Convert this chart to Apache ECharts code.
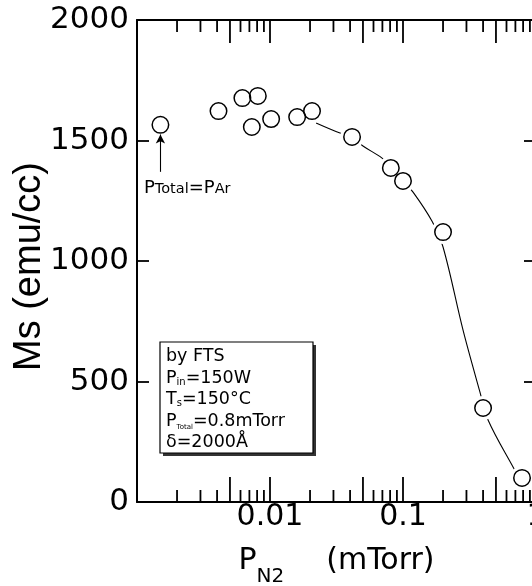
<!DOCTYPE html>
<html><head><meta charset="utf-8">
<script src="https://cdn.jsdelivr.net/npm/echarts@6/dist/echarts.min.js"></script>
<style>html,body{margin:0;padding:0;background:#fff}#c{width:532px;height:586px}</style>
</head><body><div id="c"></div>
<script>
// Measured points: N2 partial pressure (mTorr) and saturation magnetization (emu/cc)
const pN2 = [0.0015, 0.0041, 0.0062, 0.0081, 0.0073, 0.0102, 0.016, 0.0207, 0.0414, 0.081, 0.1, 0.2, 0.4, 0.785];
const ms  = [1565, 1622, 1676, 1685, 1556, 1589, 1597, 1622, 1515, 1386, 1332, 1120, 390, 100];
// Guide curve
const curveX = [0.0222, 0.0336, 0.0413, 0.0500, 0.0696, 0.0812, 0.1, 0.119, 0.165, 0.200, 0.2825, 0.379, 0.436, 0.672, 0.745];
const curveY = [1573, 1531, 1515, 1477, 1427, 1386, 1332, 1286, 1166, 1058, 714, 456, 340, 145, 104];
// Axis ticks / labels
const xTickValues = [0.01, 0.1, 1];
const xTickLabels = ['0.01', '0.1', '1'];
const xLongTicks = [0.005, 0.01, 0.05, 0.1, 0.5];
const xShortTicks = [0.002, 0.003, 0.004, 0.006, 0.007, 0.008, 0.009,
                     0.02, 0.03, 0.04, 0.06, 0.07, 0.08, 0.09,
                     0.2, 0.3, 0.4, 0.6, 0.7, 0.8, 0.9];
const yTickLabels = ['0', '500', '1000', '1500', '2000'];
// Annotation arrow (data units)
const arrowFrom = [0.0015, 1370];
const arrowTo = [0.0015, 1525];

const FONT = 'DejaVu Sans';
const scatterData = pN2.map((x, i) => [x, ms[i]]);
const curveData = curveX.map((x, i) => [x, curveY[i]]);

function labelFor(v) {
  const idx = xTickValues.findIndex(t => Math.abs(Math.log10(t) - Math.log10(v)) < 1e-6);
  return idx >= 0 ? xTickLabels[idx] : '';
}
function tickSeries(values, lenBottom, lenTop) {
  return {
    type: 'custom', coordinateSystem: 'cartesian2d', xAxisIndex: 0, yAxisIndex: 0,
    z: 10, silent: true, clip: false,
    data: values.map(v => [v, 0]),
    renderItem(params, api) {
      const cs = params.coordSys;
      const x = api.coord([api.value(0), 0])[0];
      const bottom = cs.y + cs.height, top = cs.y;
      const st = { stroke: '#000', lineWidth: 1.8 };
      return { type: 'group', children: [
        { type: 'line', shape: { x1: x, y1: bottom, x2: x, y2: bottom - lenBottom }, style: st },
        { type: 'line', shape: { x1: x, y1: top, x2: x, y2: top + lenTop }, style: st }
      ]};
    }
  };
}

const chart = echarts.init(document.getElementById('c'), null, { renderer: 'canvas' });
const mStyle = { fill: '#000', fontFamily: FONT, fontSize: 17.5, lineHeight: 18, verticalAlign: 'bottom' };
const boxRich = {
  m: mStyle,
  s: { fill: '#000', fontFamily: FONT, fontSize: 10, lineHeight: 10, verticalAlign: 'bottom' },
  t: { fill: '#000', fontFamily: FONT, fontSize: 7, lineHeight: 7, verticalAlign: 'bottom' }
};
function boxLine(text, y) {
  return { type: 'text', z: 30, style: { x: 166, y: y, text: text, rich: boxRich, verticalAlign: 'top', align: 'left' } };
}

chart.setOption({
  animation: false,
  backgroundColor: '#fff',
  grid: { left: 137, top: 20, width: 399, height: 482, outerBoundsMode: 'none', containLabel: false },
  xAxis: [{
    type: 'log', logBase: 10, min: 0.001, max: 1, position: 'bottom',
    axisLine: { show: true, onZero: false, lineStyle: { color: '#000', width: 2 } },
    axisTick: { show: false }, minorTick: { show: false }, splitLine: { show: false },
    axisLabel: { margin: 0, color: '#000', fontFamily: FONT, fontSize: 30, formatter: labelFor },
    name: '{p|P}{sub|N2}{g| }{u|(mTorr)}',
    nameLocation: 'middle', nameGap: 44, nameMoveOverlap: false,
    nameTextStyle: {
      rich: {
        p: { color: '#000', fontFamily: FONT, fontSize: 30, lineHeight: 30, verticalAlign: 'top' },
        sub: { color: '#000', fontFamily: FONT, fontSize: 20, lineHeight: 20, verticalAlign: 'top', padding: [21, 0, 0, 0] },
        g: { fontSize: 10, lineHeight: 10, width: 42, verticalAlign: 'top' },
        u: { color: '#000', fontFamily: FONT, fontSize: 30, lineHeight: 30, verticalAlign: 'top' }
      }
    }
  }, {
    type: 'log', logBase: 10, min: 0.001, max: 1, position: 'top',
    axisLine: { show: true, onZero: false, lineStyle: { color: '#000', width: 2 } },
    axisTick: { show: false }, axisLabel: { show: false }, splitLine: { show: false }
  }],
  yAxis: [{
    type: 'value', min: 0, max: 2000, interval: 500, position: 'left',
    axisLine: { show: true, onZero: false, lineStyle: { color: '#000', width: 2 } },
    axisTick: { show: true, inside: true, length: 12, lineStyle: { color: '#000', width: 1.8 } },
    axisLabel: { margin: 8, color: '#000', fontFamily: FONT, fontSize: 31,
                 formatter: (v) => yTickLabels[Math.round(v / 500)] },
    splitLine: { show: false },
    name: 'Ms (emu/cc)', nameLocation: 'middle', nameGap: 88, nameRotate: 90, nameMoveOverlap: false,
    nameTextStyle: { fontFamily: 'Liberation Sans', fontSize: 38, color: '#000', padding: [0, 11, 0, 0] }
  }, {
    type: 'value', min: 0, max: 2000, interval: 500, position: 'right',
    axisLine: { show: true, onZero: false, lineStyle: { color: '#000', width: 2 } },
    axisTick: { show: true, inside: true, length: 12, lineStyle: { color: '#000', width: 1.8 } },
    axisLabel: { show: false }, splitLine: { show: false }
  }],
  series: [
    {
      type: 'line', data: curveData, smooth: 0.35, symbol: 'none', showSymbol: false,
      lineStyle: { color: '#000', width: 1.1 }, z: 2, silent: true
    },
    {
      type: 'scatter', data: scatterData, symbol: 'circle', symbolSize: 24,
      itemStyle: { color: '#fff', opacity: 1 }, z: 3, silent: true
    },
    {
      type: 'scatter', data: scatterData, symbol: 'circle', symbolSize: 16.5,
      itemStyle: { color: 'rgba(0,0,0,0)', borderColor: '#000', borderWidth: 1.5, opacity: 1 }, z: 4, silent: true,
      markLine: {
        silent: true, symbol: ['none', 'arrow'], symbolSize: [7, 9], animation: false,
        label: { show: false }, lineStyle: { color: '#000', width: 1.1, type: 'solid' },
        data: [[{ coord: arrowFrom }, { coord: arrowTo }]]
      }
    },
    tickSeries(xShortTicks, 12, 12),
    tickSeries(xLongTicks, 25, 23)
  ],
  graphic: [
    { type: 'rect', z: 28, shape: { x: 163, y: 345, width: 153, height: 111 }, style: { fill: '#333' } },
    { type: 'rect', z: 29, shape: { x: 160, y: 342, width: 153, height: 111 }, style: { fill: '#fff', stroke: '#000', lineWidth: 1.2 } },
    boxLine('{m|by FTS}', 347.8),
    boxLine('{m|P}{s|in}{m|=150W}', 369.3),
    boxLine('{m|T}{s|s}{m|=150°C}', 390.8),
    boxLine('{m|P}{t|Total}{m|=0.8mTorr}', 412.3),
    boxLine('{m|δ=2000Å}', 433.8),
    { type: 'text', z: 30, style: {
        x: 144, y: 179, verticalAlign: 'top', align: 'left',
        text: '{a|P}{b|Total}{a|=P}{b|Ar}',
        rich: {
          a: { fill: '#000', fontFamily: FONT, fontSize: 18, lineHeight: 18, verticalAlign: 'bottom' },
          b: { fill: '#000', fontFamily: FONT, fontSize: 14.5, lineHeight: 14.5, verticalAlign: 'bottom' }
        }
    } }
  ]
});
</script>
</body></html>
